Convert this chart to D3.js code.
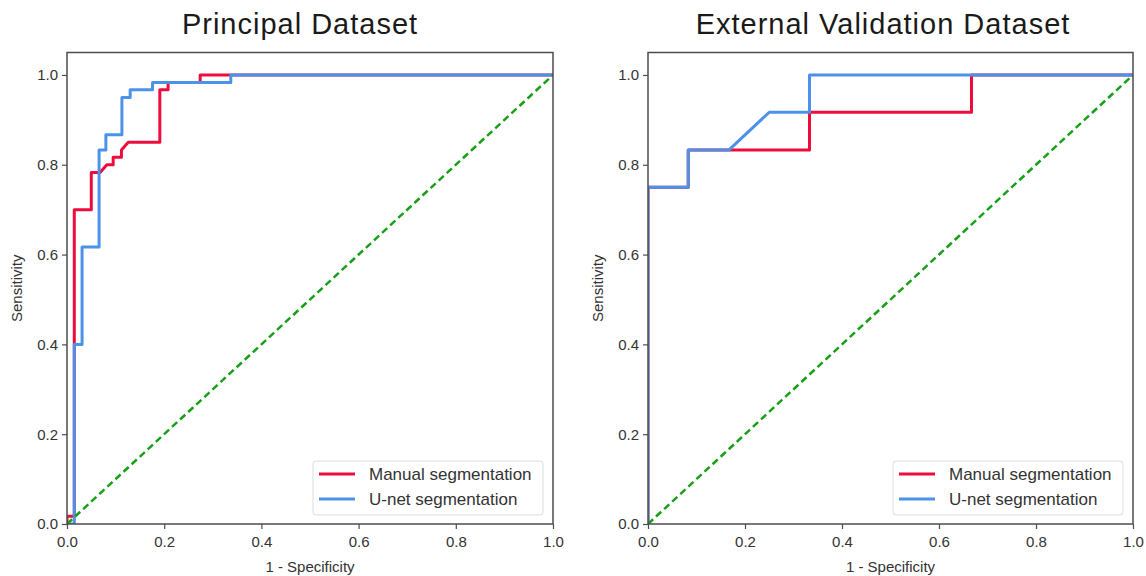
<!DOCTYPE html>
<html lang="en">
<head>
    <meta charset="UTF-8">
    <title>ROC curves</title>
    <style>
        body {
            margin: 0;
            background: #fff;
        }
        .title {
            font-family: "Liberation Sans", Arial, sans-serif;
            font-size: 29px;
            letter-spacing: 1px;
            fill: #1a1a1a;
            text-anchor: middle;
        }
        .tick text, .axis-label, .legend text {
            font-family: "Liberation Sans", Arial, sans-serif;
            fill: #333;
        }
        .axis-label {
            font-size: 15px;
            text-anchor: middle;
        }
    </style>
</head>
<body>
    <svg id="canvas" width="1146" height="576"></svg>
    <script src="https://d3js.org/d3.v7.min.js"></script>
    <script>
        // Principal dataset: [1 - specificity, sensitivity]
        const principalManual = [
            [0, 0], [0, 0.017], [0.015, 0.017], [0.015, 0.7], [0.05, 0.7], [0.05, 0.783],
            [0.068, 0.783], [0.082, 0.8], [0.095, 0.8], [0.095, 0.817], [0.112, 0.817],
            [0.112, 0.833], [0.126, 0.85], [0.191, 0.85], [0.191, 0.967], [0.208, 0.967],
            [0.208, 0.983], [0.274, 0.983], [0.274, 1.0], [1, 1]
        ];
        const principalUnet = [
            [0, 0], [0.015, 0], [0.015, 0.4], [0.031, 0.4], [0.031, 0.617], [0.066, 0.617],
            [0.066, 0.833], [0.08, 0.833], [0.08, 0.867], [0.113, 0.867], [0.113, 0.95],
            [0.13, 0.95], [0.13, 0.967], [0.176, 0.967], [0.176, 0.983], [0.337, 0.983],
            [0.337, 1.0], [1, 1]
        ];
        // External validation dataset
        const externalManual = [
            [0, 0], [0, 0.75], [0.083, 0.75], [0.083, 0.833], [0.333, 0.833], [0.333, 0.917],
            [0.667, 0.917], [0.667, 1.0], [1, 1]
        ];
        const externalUnet = [
            [0, 0], [0, 0.75], [0.083, 0.75], [0.083, 0.833], [0.167, 0.833], [0.25, 0.917],
            [0.333, 0.917], [0.333, 1.0], [1, 1]
        ];
        const chance = [[0, 0], [1, 1]];
        const ticks = [0, 0.2, 0.4, 0.6, 0.8, 1.0];
        const seriesNames = ["Manual segmentation", "U-net segmentation"];
        const colors = ["#ee0c3c", "#4b92e8"];

        const svg = d3.select("#canvas");

        const panels = [
            { title: "Principal Dataset", left: 67, right: 553, series: [principalManual, principalUnet], cx: 300 },
            { title: "External Validation Dataset", left: 648, right: 1133, series: [externalManual, externalUnet], cx: 883 }
        ];
        const plotTop = 52.5, plotBottom = 524;

        panels.forEach((p, i) => {
            const x = d3.scaleLinear().domain([0, 1]).range([p.left, p.right]);
            const y = d3.scaleLinear().domain([0, 1.05]).range([plotBottom, plotTop]);
            const g = svg.append("g");

            g.append("clipPath").attr("id", "clip" + i)
                .append("rect")
                .attr("x", p.left).attr("y", plotTop)
                .attr("width", p.right - p.left).attr("height", plotBottom - plotTop);

            const line = d3.line().x(d => x(d[0])).y(d => y(d[1]));
            const plot = g.append("g").attr("clip-path", `url(#clip${i})`);

            p.series.forEach((s, k) => {
                plot.append("path")
                    .attr("d", line(s))
                    .attr("fill", "none")
                    .attr("stroke", colors[k])
                    .attr("stroke-width", 3)
                    .attr("stroke-linejoin", "round");
            });

            plot.append("path")
                .attr("d", line(chance))
                .attr("fill", "none")
                .attr("stroke", "#17a017")
                .attr("stroke-width", 2.5)
                .attr("stroke-dasharray", "7,4");

            // frame
            g.append("rect")
                .attr("x", p.left).attr("y", plotTop)
                .attr("width", p.right - p.left).attr("height", plotBottom - plotTop)
                .attr("fill", "none")
                .attr("stroke", "#4d4d4d")
                .attr("stroke-width", 1.5);

            const xAxis = g.append("g")
                .attr("transform", `translate(0,${plotBottom})`)
                .call(d3.axisBottom(x).tickValues(ticks).tickFormat(d3.format(".1f")).tickSize(5).tickPadding(7));
            const yAxis = g.append("g")
                .attr("transform", `translate(${p.left},0)`)
                .call(d3.axisLeft(y).tickValues(ticks).tickFormat(d3.format(".1f")).tickSize(5).tickPadding(4));
            [xAxis, yAxis].forEach(a => {
                a.select(".domain").remove();
                a.selectAll(".tick line").attr("stroke", "#4d4d4d").attr("stroke-width", 1.2);
                a.selectAll(".tick text").style("font-size", "15px");
            });

            g.append("text")
                .attr("class", "title")
                .attr("x", p.cx).attr("y", 34)
                .text(p.title);

            g.append("text")
                .attr("class", "axis-label")
                .attr("x", (p.left + p.right) / 2).attr("y", 572)
                .text("1 - Specificity");

            g.append("text")
                .attr("class", "axis-label")
                .attr("transform", `translate(${p.left - 45},${(plotTop + plotBottom) / 2}) rotate(-90)`)
                .text("Sensitivity");

            // legend
            const lw = 230, lh = 54;
            const lx = p.right - 10 - lw, ly = plotBottom - 9 - lh;
            const leg = g.append("g").attr("class", "legend");
            leg.append("rect")
                .attr("x", lx).attr("y", ly)
                .attr("width", lw).attr("height", lh)
                .attr("rx", 3)
                .attr("fill", "#fff")
                .attr("stroke", "#ddd");
            seriesNames.forEach((name, k) => {
                const yy = ly + 13 + k * 25;
                leg.append("line")
                    .attr("x1", lx + 6).attr("x2", lx + 42)
                    .attr("y1", yy).attr("y2", yy)
                    .attr("stroke", colors[k])
                    .attr("stroke-width", 3);
                leg.append("text")
                    .attr("x", lx + 56).attr("y", yy + 6)
                    .style("font-size", "17px")
                    .text(name);
            });
        });
    </script>
</body>
</html>
